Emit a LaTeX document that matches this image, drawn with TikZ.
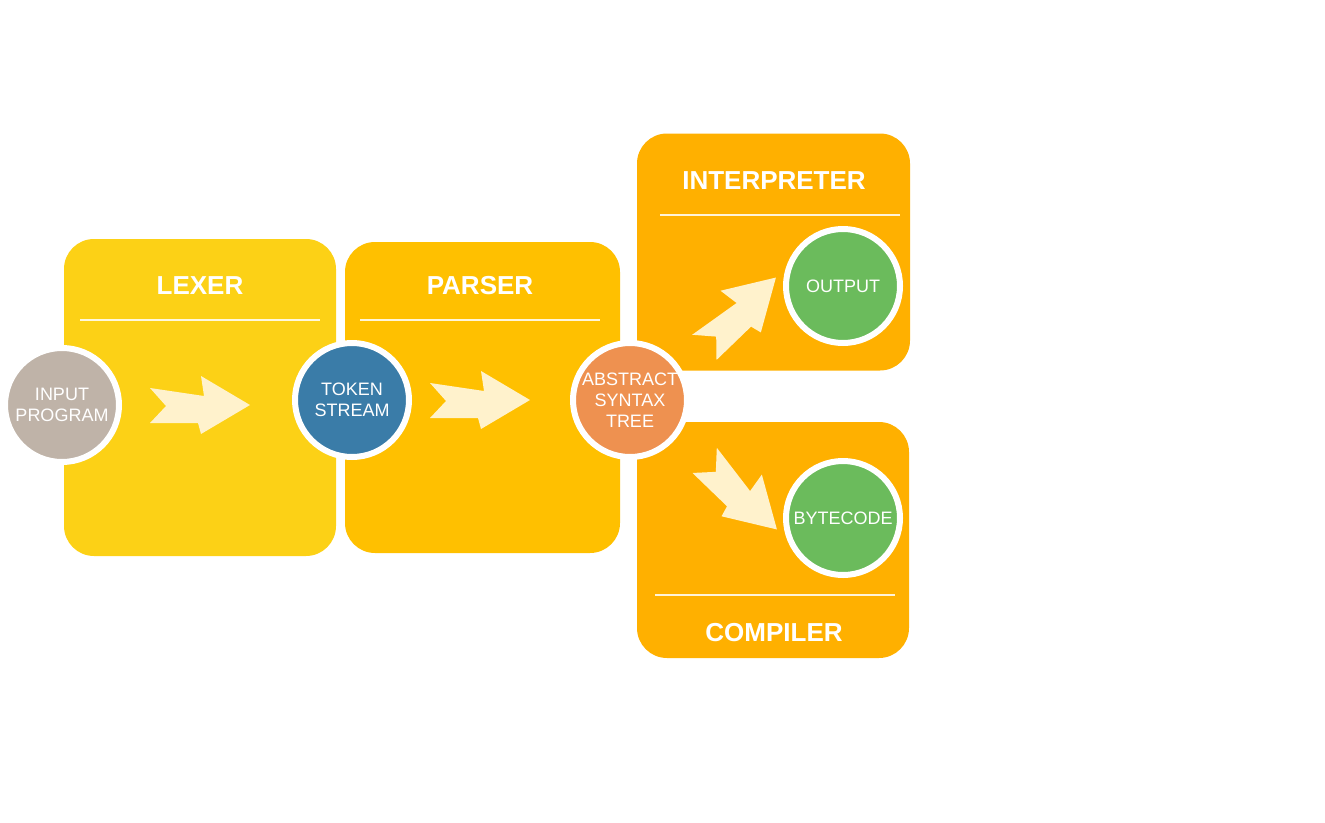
\documentclass[tikz,border=0pt]{standalone}
\usepackage{fontspec}
\setmainfont{Liberation Sans}
\definecolor{lexfill}{HTML}{FCD116}
\definecolor{parfill}{HTML}{FFC000}
\definecolor{runfill}{HTML}{FFB000}
\definecolor{arrowfill}{HTML}{FFF2CC}
\definecolor{inputfill}{HTML}{BFB3A8}
\definecolor{tokenfill}{HTML}{3A7CA8}
\definecolor{astfill}{HTML}{EE9150}
\definecolor{outfill}{HTML}{6BBB5C}
\tikzset{
  stage/.style={rounded corners=30pt, inner sep=0pt},
  heading/.style={text=white, font=\bfseries\fontsize{26}{30}\selectfont},
  rule/.style={draw=white, opacity=0.85, line width=2pt},
  blob/.style={circle, draw=white, line width=6pt, minimum size=114pt,
    inner sep=0pt, text=white, align=center,
    font=\fontsize{18}{21}\selectfont},
  fatarrow/.pic={
    \fill[arrowfill] (0,-17) -- (54,-9) -- (51,-29) -- (100,0)
      -- (51,29) -- (48,18) -- (0,18) -- (16,1) -- cycle;
  }
}
\begin{document}
\begin{tikzpicture}[x=1pt,y=-1pt]
  \useasboundingbox (0,0) rectangle (1325,822);
  % stages
  \node[stage, fill=lexfill, minimum width=272pt, minimum height=317pt] (lexer) at (200,397.5) {};
  \node[stage, fill=parfill, minimum width=275pt, minimum height=311pt] (parser) at (482.5,397.5) {};
  \node[stage, fill=runfill, minimum width=273pt, minimum height=237pt] (interp) at (773.5,252) {};
  \node[stage, fill=runfill, minimum width=272pt, minimum height=236pt] (compiler) at (773,540) {};
  \draw[rule] (80,320) -- (320,320);
  \draw[rule] (360,320) -- (600,320);
  \draw[rule] (660,215) -- (900,215);
  \draw[rule] (655,595) -- (895,595);
  \node[heading] (lexertitle) at (200,286) {LEXER};
  \node[heading] (parsertitle) at (480,286) {PARSER};
  \node[heading] (interptitle) at (774,181) {INTERPRETER};
  \node[heading] (compilertitle) at (774,633) {COMPILER};
  % arrows
  \pic at (150,405) {fatarrow};
  \pic at (430,400) {fatarrow};
  \pic[rotate=44] at (704,347) {fatarrow};
  \pic[rotate=-44] at (705,460) {fatarrow};
  % data
  \node[blob, fill=inputfill] (input) at (62,405) {INPUT\\PROGRAM};
  \node[blob, fill=tokenfill] (token) at (352,400) {TOKEN\\STREAM};
  \node[blob, fill=astfill] (ast) at (630,400) {ABSTRACT\\SYNTAX\\TREE};
  \node[blob, fill=outfill] (output) at (843,286) {OUTPUT};
  \node[blob, fill=outfill] (bytecode) at (843,518) {BYTECODE};
\end{tikzpicture}
\end{document}
